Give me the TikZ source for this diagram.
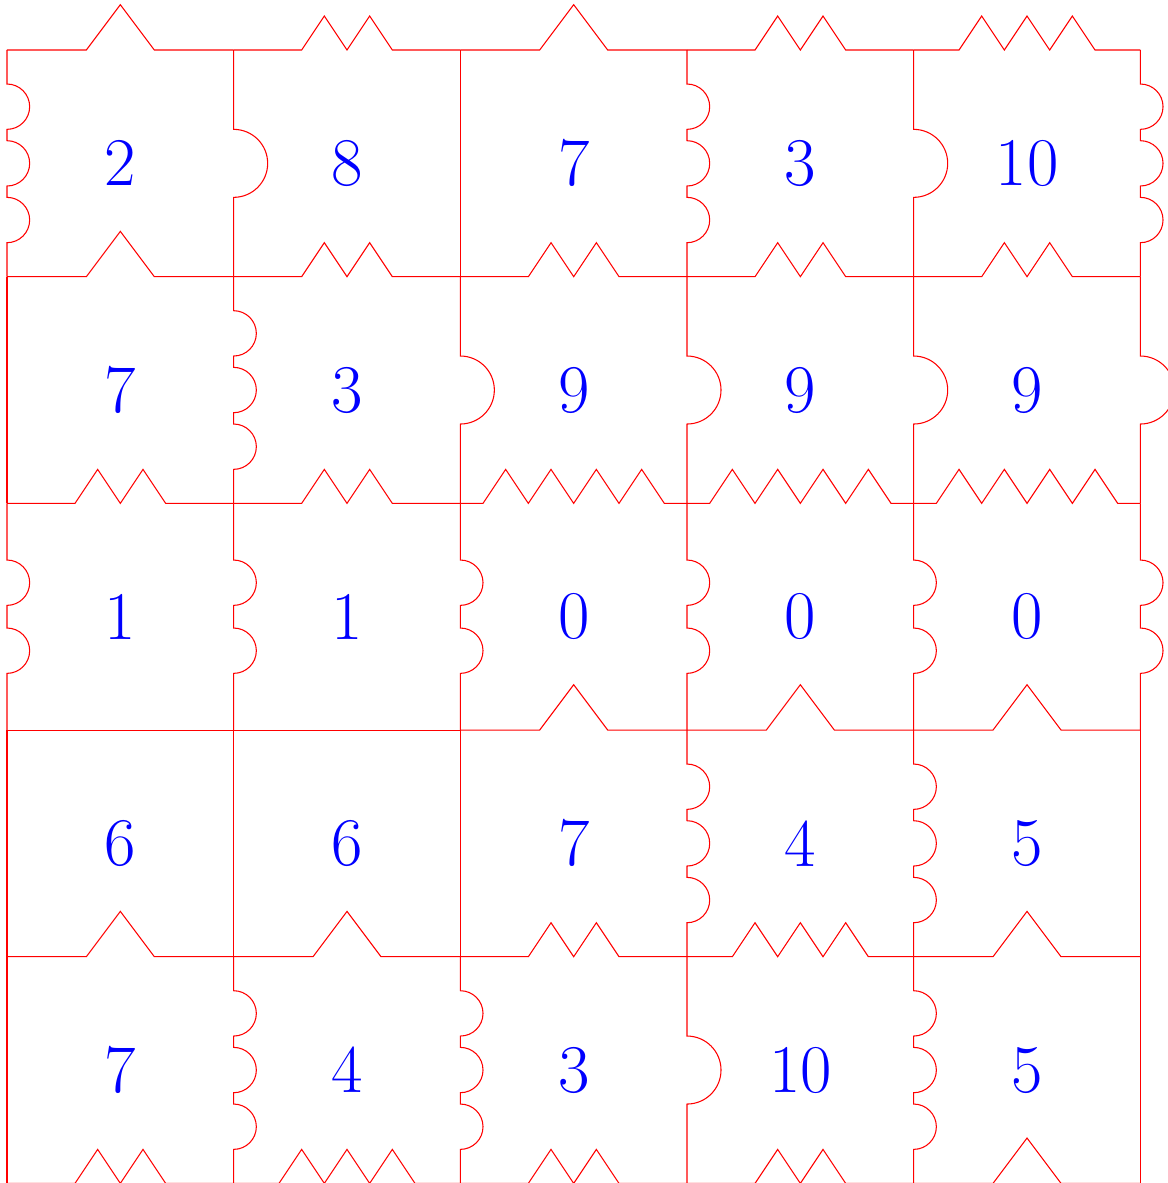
\documentclass[tikz,border=0pt]{standalone}
\usepackage{tikz}
\tikzset{
  edge/.style={draw=red,line width=0.4pt},
  num/.style={text=blue,font=\fontsize{25.7}{30}\selectfont,inner sep=0pt}
}
% horizontal edge: #1=x, #2=y, #3=number of teeth
\newcommand{\hzig}[3]{%
  \ifnum#3=0
    \draw[edge] (#1,#2) -- ++(3,0);
  \else\ifnum#3=1
    \draw[edge] (#1,#2) -- ++(1.05,0) -- ++(0.45,0.6) -- ++(0.45,-0.6) -- ++(1.05,0);
  \else
    \draw[edge] (#1,#2) -- ++({1.5-0.3*#3},0)
      \foreach \t in {1,...,#3}{ -- ++(0.3,0.45) -- ++(0.3,-0.45)}
      -- ++({1.5-0.3*#3},0);
  \fi\fi}
% vertical edge: #1=x, #2=top y, #3=number of bumps
\newcommand{\vbump}[3]{%
  \ifnum#3=0
    \draw[edge] (#1,#2) -- ++(0,-3);
  \else\ifnum#3=1
    \draw[edge] (#1,#2) -- ++(0,-1.05) arc[start angle=90,end angle=-90,radius=0.45] -- ++(0,-1.05);
  \else\ifnum#3=2
    \draw[edge] (#1,#2) -- ++(0,-0.75) arc[start angle=90,end angle=-90,radius=0.3]
      -- ++(0,-0.3) arc[start angle=90,end angle=-90,radius=0.3] -- ++(0,-0.75);
  \else
    \draw[edge] (#1,#2) -- ++(0,-0.45) arc[start angle=90,end angle=-90,radius=0.3]
      -- ++(0,-0.15) arc[start angle=90,end angle=-90,radius=0.3]
      -- ++(0,-0.15) arc[start angle=90,end angle=-90,radius=0.3] -- ++(0,-0.45);
  \fi\fi\fi}
\begin{document}
\begin{tikzpicture}
\useasboundingbox (-0.0926,-14.995) rectangle (15.365,0.662);
% horizontal lines
\foreach \n [count=\c from 0] in {1,2,1,2,3} {\hzig{3*\c}{0}{\n}}
\foreach \n [count=\c from 0] in {1,2,2,2,2} {\hzig{3*\c}{-3}{\n}}
\foreach \n [count=\c from 0] in {2,2,4,4,4} {\hzig{3*\c}{-6}{\n}}
\foreach \n [count=\c from 0] in {0,0,1,1,1} {\hzig{3*\c}{-9}{\n}}
\foreach \n [count=\c from 0] in {1,1,2,3,1} {\hzig{3*\c}{-12}{\n}}
\foreach \n [count=\c from 0] in {2,3,2,2,1} {\hzig{3*\c}{-15}{\n}}
% vertical lines
\foreach \n [count=\c from 0] in {3,1,0,3,1,3} {\vbump{3*\c}{0}{\n}}
\foreach \n [count=\c from 0] in {0,3,1,1,1,1} {\vbump{3*\c}{-3}{\n}}
\foreach \n [count=\c from 0] in {2,2,2,2,2,2} {\vbump{3*\c}{-6}{\n}}
\foreach \n [count=\c from 0] in {0,0,0,3,3,0} {\vbump{3*\c}{-9}{\n}}
\foreach \n [count=\c from 0] in {0,3,3,1,3,0} {\vbump{3*\c}{-12}{\n}}
% numbers
\node[num] (a11) at (1.5,-1.5) {2};
\node[num] (a12) at (4.5,-1.5) {8};
\node[num] (a13) at (7.5,-1.5) {7};
\node[num] (a14) at (10.5,-1.5) {3};
\node[num] (a15) at (13.5,-1.5) {10};
\node[num] (a21) at (1.5,-4.5) {7};
\node[num] (a22) at (4.5,-4.5) {3};
\node[num] (a23) at (7.5,-4.5) {9};
\node[num] (a24) at (10.5,-4.5) {9};
\node[num] (a25) at (13.5,-4.5) {9};
\node[num] (a31) at (1.5,-7.5) {1};
\node[num] (a32) at (4.5,-7.5) {1};
\node[num] (a33) at (7.5,-7.5) {0};
\node[num] (a34) at (10.5,-7.5) {0};
\node[num] (a35) at (13.5,-7.5) {0};
\node[num] (a41) at (1.5,-10.5) {6};
\node[num] (a42) at (4.5,-10.5) {6};
\node[num] (a43) at (7.5,-10.5) {7};
\node[num] (a44) at (10.5,-10.5) {4};
\node[num] (a45) at (13.5,-10.5) {5};
\node[num] (a51) at (1.5,-13.5) {7};
\node[num] (a52) at (4.5,-13.5) {4};
\node[num] (a53) at (7.5,-13.5) {3};
\node[num] (a54) at (10.5,-13.5) {10};
\node[num] (a55) at (13.5,-13.5) {5};
\end{tikzpicture}
\end{document}
